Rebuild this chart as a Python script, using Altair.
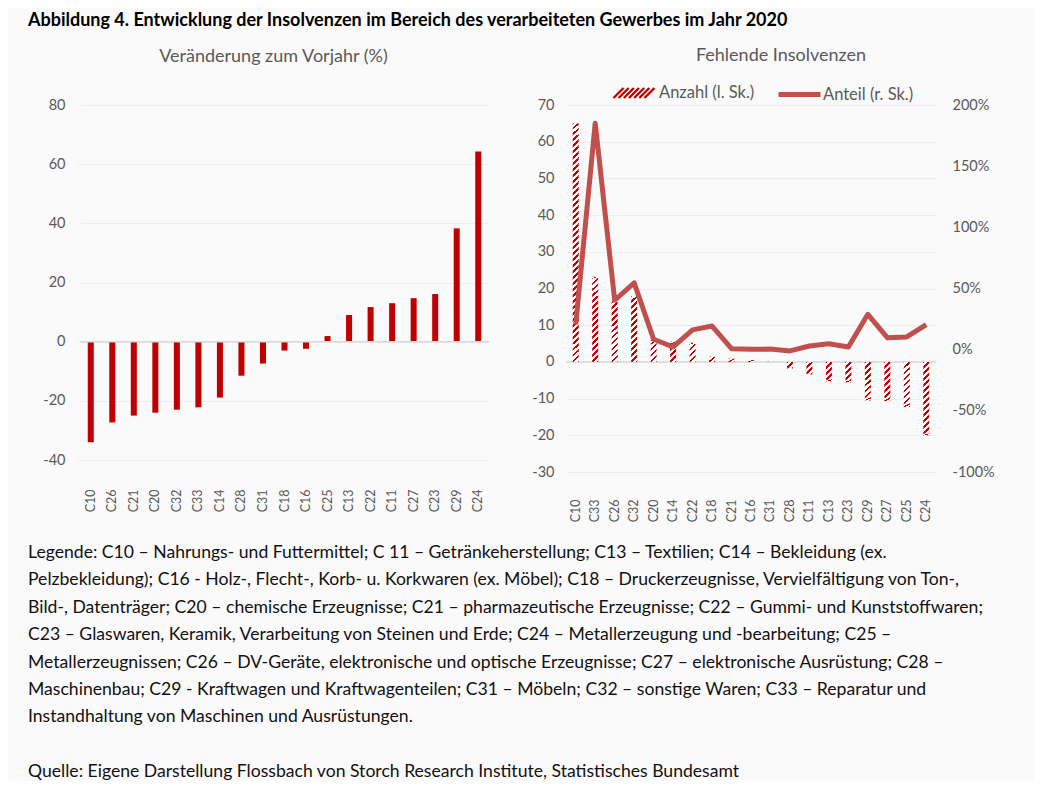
import altair as alt
import pandas as pd

TITLE = "Abbildung 4. Entwicklung der Insolvenzen im Bereich des verarbeiteten Gewerbes im Jahr 2020"
LEFT_TITLE = "Veränderung zum Vorjahr (%)"
RIGHT_TITLE = "Fehlende Insolvenzen"

# Left panel: change vs. previous year (%)
left_cats = ["C10", "C26", "C21", "C20", "C32", "C33", "C14", "C28", "C31", "C18",
             "C16", "C25", "C13", "C22", "C11", "C27", "C23", "C29", "C24"]
left_vals = [-34.0, -27.3, -25.0, -24.0, -23.0, -22.2, -18.9, -11.5, -7.4, -3.0,
             -2.4, 1.9, 9.0, 11.7, 13.0, 14.7, 16.1, 38.3, 64.3]
left_ticks = [-40, -20, 0, 20, 40, 60, 80]

# Right panel: missing insolvencies
right_cats = ["C10", "C33", "C26", "C32", "C20", "C14", "C22", "C18", "C21", "C16",
              "C31", "C28", "C11", "C13", "C23", "C29", "C27", "C25", "C24"]
anzahl = [65.0, 23.2, 16.8, 17.9, 5.9, 5.5, 5.2, 1.4, 0.9, 0.5,
          0.1, -1.8, -3.4, -5.3, -5.6, -10.5, -10.7, -12.3, -20.0]
anteil = [0.205, 1.85, 0.404, 0.546, 0.085, 0.022, 0.162, 0.193, 0.008, 0.003,
          0.005, -0.010, 0.030, 0.049, 0.022, 0.289, 0.098, 0.104, 0.205]
right_left_ticks = [-30, -20, -10, 0, 10, 20, 30, 40, 50, 60, 70]
right_pct_ticks = [-1.0, -0.5, 0.0, 0.5, 1.0, 1.5, 2.0]
series_names = ["Anzahl (l. Sk.)", "Anteil (r. Sk.)"]

note_lines = [
    "Legende: C10 – Nahrungs- und Futtermittel; C 11 – Getränkeherstellung; C13 – Textilien; C14 – Bekleidung (ex.",
    "Pelzbekleidung); C16 - Holz-, Flecht-, Korb- u. Korkwaren (ex. Möbel); C18 – Druckerzeugnisse, Vervielfältigung von Ton-,",
    "Bild-, Datenträger; C20 – chemische Erzeugnisse; C21 – pharmazeutische Erzeugnisse; C22 – Gummi- und Kunststoffwaren;",
    "C23 – Glaswaren, Keramik, Verarbeitung von Steinen und Erde; C24 – Metallerzeugung und -bearbeitung; C25 –",
    "Metallerzeugnissen; C26 – DV-Geräte, elektronische und optische Erzeugnisse; C27 – elektronische Ausrüstung; C28 –",
    "Maschinenbau; C29 - Kraftwagen und Kraftwagenteilen; C31 – Möbeln; C32 – sonstige Waren; C33 – Reparatur und",
    "Instandhaltung von Maschinen und Ausrüstungen.",
    "",
    "Quelle: Eigene Darstellung Flossbach von Storch Research Institute, Statistisches Bundesamt",
]

FONT = "Lato"
GRAY = "#595959"
BG = "#fafafa"
GRID = "#eeeeee"
ZERO = "#d9d9d9"
BAR_RED = "#C00000"
LINE_RED = "#C0504D"
STEP = 1.63  # hatch period in left-axis units of the right panel

left_df = pd.DataFrame({"cat": left_cats, "val": left_vals})
right_df = pd.DataFrame({"cat": right_cats, "anzahl": anzahl, "anteil": anteil})
note_df = pd.DataFrame({"row": list(range(len(note_lines))), "text": note_lines})
zero_df = pd.DataFrame({"z": [0]})

LW, LH = 409, 355
RW, RH = 370, 367
NUM_LABEL = "datum.value + ''"

# ---------- left panel ----------
left_x = alt.X("cat:N", sort=left_cats, title=None,
               scale=alt.Scale(paddingInner=0.72, paddingOuter=0.36),
               axis=alt.Axis(labelAngle=-90, labelPadding=29, ticks=False, domain=False,
                             grid=False, labelFontSize=12.5))
left_y = alt.Y("val:Q", title=None,
               scale=alt.Scale(domain=[-40, 80], nice=False, zero=False),
               axis=alt.Axis(values=left_ticks, grid=True, ticks=False, domain=False,
                             labelPadding=15, labelFontSize=14.5, minExtent=52,
                             labelOverlap=False, labelExpr=NUM_LABEL))
left_bars = alt.Chart(left_df).mark_bar(color=BAR_RED).encode(x=left_x, y=left_y)
left_zero = alt.Chart(zero_df).mark_rule(color=ZERO, strokeWidth=1.5).encode(y="z:Q")
left = alt.layer(left_bars, left_zero).properties(
    width=LW, height=LH,
    title=alt.TitleParams(LEFT_TITLE, fontSize=18, fontWeight="normal", color=GRAY,
                          offset=31, dx=-11),
)

# ---------- right panel ----------
right_x = alt.X("cat:N", sort=right_cats, title=None,
                scale=alt.Scale(paddingInner=0.69, paddingOuter=0.345),
                axis=alt.Axis(labelAngle=-90, labelPadding=27, ticks=False, domain=False,
                              grid=False, labelFontSize=12.5))
right_y_axis = alt.Axis(values=right_left_ticks, grid=True, ticks=False, domain=False,
                        labelPadding=12, labelFontSize=14.5, minExtent=40,
                        labelOverlap=False, labelExpr=NUM_LABEL)
right_y = alt.Y("y1:Q", title=None,
                scale=alt.Scale(domain=[-30, 70], nice=False, zero=False),
                axis=right_y_axis)

w = 0.11
hatch = {
    "gradient": "linear", "x1": 0, "y1": 0, "x2": 1, "y2": 1,
    "stops": [
        {"offset": 0.0, "color": BAR_RED}, {"offset": w, "color": BAR_RED},
        {"offset": w, "color": "#ffffff"}, {"offset": 0.5 - w, "color": "#ffffff"},
        {"offset": 0.5 - w, "color": BAR_RED}, {"offset": 0.5 + w, "color": BAR_RED},
        {"offset": 0.5 + w, "color": "#ffffff"}, {"offset": 1 - w, "color": "#ffffff"},
        {"offset": 1 - w, "color": BAR_RED}, {"offset": 1.0, "color": BAR_RED},
    ],
}

hatch_bars = alt.Chart(right_df).transform_calculate(
    seq=f"sequence(0, abs(datum.anzahl), {STEP})"
).transform_flatten(["seq"]).transform_calculate(
    y1="(datum.anzahl < 0 ? -1 : 1) * datum.seq",
    y2=f"(datum.anzahl < 0 ? -1 : 1) * min(datum.seq + {STEP}, abs(datum.anzahl))",
).mark_bar(fill=hatch).encode(x=right_x, y=right_y, y2="y2:Q")

right_zero = alt.Chart(zero_df).mark_rule(color=ZERO, strokeWidth=1.5).encode(
    y=alt.Y("z:Q", title=None, axis=right_y_axis))

# hatch legend swatch path (unit coords, scaled by sqrt(size)/2)
hh = 10 / 41.0
pitch = (2.0 - 2 * hh) / 6
parts = []
for k in range(7):
    x0 = -1.0 + k * pitch
    parts.append(f"M{x0:.3f},{hh:.3f}L{x0 + 2 * hh:.3f},{-hh:.3f}")
HATCH_PATH = "".join(parts)

legend_hatch = alt.Chart(right_df).transform_filter("false").transform_calculate(
    series=f"'{series_names[0]}'", y1="datum.anzahl"
).mark_rule(strokeWidth=2.3).encode(
    y=alt.Y("y1:Q", title=None, axis=right_y_axis),
    stroke=alt.Stroke("series:N", title=None,
                      scale=alt.Scale(domain=[series_names[0]], range=[BAR_RED]),
                      legend=alt.Legend(orient="none", legendX=46, legendY=-34, title=None,
                                        symbolType=HATCH_PATH, symbolSize=1681,
                                        symbolStrokeWidth=2.3, labelOffset=3, padding=0)),
)

inner = alt.layer(right_zero, hatch_bars, legend_hatch)

line = alt.Chart(right_df).transform_calculate(
    series=f"'{series_names[1]}'"
).mark_line(strokeWidth=5, strokeJoin="round").encode(
    x=right_x,
    y=alt.Y("anteil:Q", title=None,
            scale=alt.Scale(domain=[-1, 2], nice=False, zero=False),
            axis=alt.Axis(orient="right", values=right_pct_ticks, grid=False,
                          ticks=False, domain=False, labelPadding=16, labelFontSize=14.5,
                          labelOverlap=False,
                          labelExpr="round(datum.value * 100) + '%'")),
    stroke=alt.Stroke("series:N", title=None,
                      scale=alt.Scale(domain=[series_names[1]], range=[LINE_RED]),
                      legend=alt.Legend(orient="none", legendX=210, legendY=-34, title=None,
                                        symbolType="stroke", symbolSize=1764,
                                        symbolStrokeWidth=5, labelOffset=0, padding=0)),
)

right = alt.layer(inner, line).resolve_scale(
    y="independent", stroke="independent"
).resolve_legend(stroke="independent").properties(
    width=RW, height=RH,
    title=alt.TitleParams(RIGHT_TITLE, fontSize=18, fontWeight="normal", color=GRAY,
                          offset=6, dx=30),
)

# ---------- notes ----------
note = alt.Chart(note_df).mark_text(
    align="left", baseline="middle", font=FONT, fontSize=17.6, color="#111111"
).encode(
    x=alt.value(-52),
    y=alt.Y("row:Q", scale=alt.Scale(domain=[0, len(note_lines) - 1], reverse=True), axis=None),
    text="text:N",
).properties(width=900, height=219)

chart = alt.vconcat(
    alt.hconcat(left, right, spacing=36),
    note,
    spacing=22,
).properties(
    title=alt.TitleParams(TITLE, anchor="start", fontSize=18, fontWeight="bold",
                          color="#000000", offset=17),
    background=BG,
    padding={"left": 20, "top": 4, "right": 39, "bottom": 0},
).configure_view(strokeWidth=0).configure_axis(
    labelFont=FONT, labelColor=GRAY, gridColor=GRID, gridWidth=1
).configure_legend(
    labelFont=FONT, labelColor=GRAY, labelFontSize=16.5
).configure_title(font=FONT)

chart.save("out.html", embed_options={"renderer": "svg", "actions": False})
